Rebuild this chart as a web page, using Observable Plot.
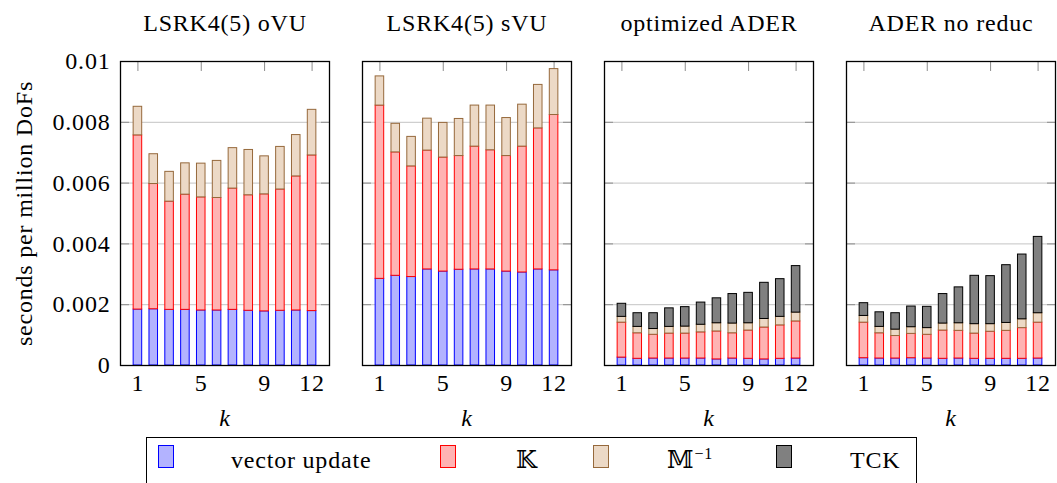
<!DOCTYPE html>
<html>
<head>
<meta charset="utf-8">
<script src="https://cdn.jsdelivr.net/npm/d3@7"></script>
<script src="https://cdn.jsdelivr.net/npm/@observablehq/plot@0.6"></script>
<style>
  body { margin: 0; background: #fff; font-family: "Liberation Serif", "DejaVu Serif", serif; }
  #wrap { position: relative; width: 1057px; height: 483px; overflow: hidden; }
  #chart svg { display: block; }
  #chart svg text { font-family: "Liberation Serif", "DejaVu Serif", serif; letter-spacing: 0.8px; }
  #legend { position: absolute; left: 146px; top: 437px; width: 771px; height: 70px;
            border: 1px solid #000; box-sizing: border-box; background: #fff; }
  .sw { position: absolute; top: 7px; width: 16px; height: 23px; box-sizing: border-box; border: 1px solid; }
  .lt { position: absolute; top: 10px; font-size: 24px; line-height: 1; white-space: nowrap; letter-spacing: 0.8px; }
  .lt sup { font-size: 16px; vertical-align: 9px; line-height: 0; }
</style>
</head>
<body>
<div id="wrap">
  <div id="chart"></div>
  <div id="legend"></div>
</div>
<script>
// Solvers, one panel each
const panels = ["LSRK4(5) oVU", "LSRK4(5) sVU", "optimized ADER", "ADER no reduc"];
const ks = [1, 2, 3, 4, 5, 6, 7, 8, 9, 10, 11, 12];
const components = ["vector update", "K", "Minv", "TCK"];

// Seconds per million DoFs, per kernel component and polynomial degree k
const oVU_vector = [0.00184, 0.00185, 0.00183, 0.00183, 0.00181, 0.00181, 0.00183, 0.00180, 0.00178, 0.00180, 0.00181, 0.00179];
const oVU_K      = [0.00573, 0.00412, 0.00356, 0.00379, 0.00372, 0.00370, 0.00399, 0.00380, 0.00385, 0.00399, 0.00441, 0.00512];
const oVU_Minv   = [0.00094, 0.00098, 0.00098, 0.00103, 0.00111, 0.00122, 0.00133, 0.00149, 0.00125, 0.00140, 0.00136, 0.00150];

const sVU_vector = [0.00285, 0.00295, 0.00291, 0.00316, 0.00309, 0.00315, 0.00316, 0.00316, 0.00309, 0.00306, 0.00316, 0.00313];
const sVU_K      = [0.00570, 0.00406, 0.00364, 0.00391, 0.00375, 0.00374, 0.00404, 0.00392, 0.00380, 0.00414, 0.00464, 0.00511];
const sVU_Minv   = [0.00096, 0.00094, 0.00097, 0.00105, 0.00114, 0.00122, 0.00135, 0.00147, 0.00125, 0.00138, 0.00143, 0.00151];

const optADER_vector = [0.00026, 0.00022, 0.00023, 0.00023, 0.00023, 0.00023, 0.00020, 0.00023, 0.00022, 0.00020, 0.00022, 0.00023];
const optADER_K      = [0.00115, 0.00084, 0.00078, 0.00082, 0.00082, 0.00086, 0.00092, 0.00083, 0.00093, 0.00105, 0.00110, 0.00122];
const optADER_Minv   = [0.00019, 0.00021, 0.00019, 0.00022, 0.00023, 0.00025, 0.00027, 0.00032, 0.00024, 0.00028, 0.00028, 0.00029];
const optADER_TCK    = [0.00043, 0.00045, 0.00052, 0.00061, 0.00064, 0.00073, 0.00082, 0.00097, 0.00100, 0.00119, 0.00124, 0.00153];

const noRed_vector = [0.00024, 0.00023, 0.00023, 0.00024, 0.00023, 0.00022, 0.00023, 0.00022, 0.00022, 0.00022, 0.00022, 0.00023];
const noRed_K      = [0.00117, 0.00083, 0.00074, 0.00080, 0.00078, 0.00093, 0.00091, 0.00083, 0.00089, 0.00092, 0.00101, 0.00118];
const noRed_Minv   = [0.00022, 0.00021, 0.00021, 0.00022, 0.00022, 0.00023, 0.00025, 0.00031, 0.00025, 0.00026, 0.00029, 0.00031];
const noRed_TCK    = [0.00042, 0.00048, 0.00054, 0.00068, 0.00070, 0.00097, 0.00118, 0.00159, 0.00158, 0.00190, 0.00213, 0.00251];

// Axis ticks and their labels
const xTicks = [1, 5, 9, 12];
const yTicks = [0, 0.002, 0.004, 0.006, 0.008, 0.01];
const yTickLabels = ["0", "0.002", "0.004", "0.006", "0.008", "0.01"];

// Styling per component
const fillOf   = {"vector update": "rgb(179,179,255)", "K": "rgb(255,179,179)", "Minv": "rgb(236,217,198)", "TCK": "rgb(128,128,128)"};
const strokeOf = {"vector update": "rgb(0,0,255)", "K": "rgb(255,0,0)", "Minv": "rgb(150,105,60)", "TCK": "rgb(0,0,0)"};

// Long-format table for the stacked bars
const series = {
  "LSRK4(5) oVU":   [oVU_vector, oVU_K, oVU_Minv, null],
  "LSRK4(5) sVU":   [sVU_vector, sVU_K, sVU_Minv, null],
  "optimized ADER": [optADER_vector, optADER_K, optADER_Minv, optADER_TCK],
  "ADER no reduc":  [noRed_vector, noRed_K, noRed_Minv, noRed_TCK]
};
const rows = [];
for (const panel of panels) {
  ks.forEach((k, i) => {
    components.forEach((comp, j) => {
      const arr = series[panel][j];
      if (arr) rows.push({panel, k, comp, value: arr[i]});
    });
  });
}

const yLabel = new Map(yTicks.map((t, i) => [t, yTickLabels[i]]));
const half = 0.27; // half bar width in k units
const tickStroke = "#8c8c8c";
const serif = "'Liberation Serif', 'DejaVu Serif', serif";

const chart = Plot.plot({
  width: 1057,
  height: 437,
  marginLeft: 119,
  marginRight: 2,
  marginTop: 61,
  marginBottom: 72,
  style: {fontFamily: serif, fontSize: "24px", background: "white", color: "black"},
  x: {domain: [-0.1, 13.1]},
  y: {domain: [0, 0.01]},
  fx: {domain: panels, paddingInner: 0.137, paddingOuter: 0},
  color: {type: "identity"},
  marks: [
    Plot.gridY(yTicks.slice(1, -1), {stroke: "#c4c4c4", strokeOpacity: 1}),
    // inward tick marks on every side of each panel
    Plot.axisX(xTicks, {anchor: "bottom", tickSize: -9, tickFormat: () => "", stroke: tickStroke, label: null, facetAnchor: null}),
    Plot.axisX(xTicks, {anchor: "top", tickSize: -9, tickFormat: () => "", stroke: tickStroke, label: null, facetAnchor: null}),
    Plot.axisY(yTicks, {anchor: "left", tickSize: -9, tickFormat: () => "", stroke: tickStroke, label: null, facetAnchor: null}),
    Plot.axisY(yTicks, {anchor: "right", tickSize: -9, tickFormat: () => "", stroke: tickStroke, label: null, facetAnchor: null}),
    // tick labels
    Plot.axisX(xTicks, {anchor: "bottom", tickSize: 0, tickPadding: 8, label: null, facetAnchor: null, fontSize: 24, fontFamily: serif}),
    Plot.axisY(yTicks, {anchor: "left", tickSize: 0, tickPadding: 10, tickFormat: d => yLabel.get(d), fontSize: 24, fontFamily: serif,
      label: "seconds per million DoFs", labelAnchor: "center", labelArrow: "none", labelOffset: 106, facetAnchor: "left"}),
    Plot.axisFx({anchor: "top", tickSize: 0, tickPadding: 31, label: null, fontSize: 24, fontFamily: serif}),
    // stacked bars
    Plot.rectY(rows, Plot.stackY({
      fx: "panel",
      x1: d => d.k - half,
      x2: d => d.k + half,
      y: "value",
      z: "comp",
      fill: d => fillOf[d.comp],
      stroke: d => strokeOf[d.comp],
      strokeWidth: 1
    })),
    Plot.text(panels, {fx: d => d, text: () => "k", frameAnchor: "bottom", dy: 60, fontStyle: "italic", fontSize: 24, fontFamily: serif}),
    Plot.frame({stroke: "black", strokeWidth: 1.3})
  ]
});
document.getElementById("chart").append(chart);

// Legend row
const legendItems = [
  {comp: "vector update", sw: 11, tx: 84, html: "vector update"},
  {comp: "K", sw: 293, tx: 369, html: "𝕂"},
  {comp: "Minv", sw: 446, tx: 520, html: "𝕄<sup>−1</sup>"},
  {comp: "TCK", sw: 629, tx: 703, html: "TCK"}
];
const legend = document.getElementById("legend");
for (const it of legendItems) {
  const s = document.createElement("div");
  s.className = "sw";
  s.style.left = it.sw + "px";
  s.style.background = fillOf[it.comp];
  s.style.borderColor = strokeOf[it.comp];
  legend.append(s);
  const t = document.createElement("div");
  t.className = "lt";
  t.style.left = it.tx + "px";
  t.innerHTML = it.html;
  legend.append(t);
}
</script>
</body>
</html>
